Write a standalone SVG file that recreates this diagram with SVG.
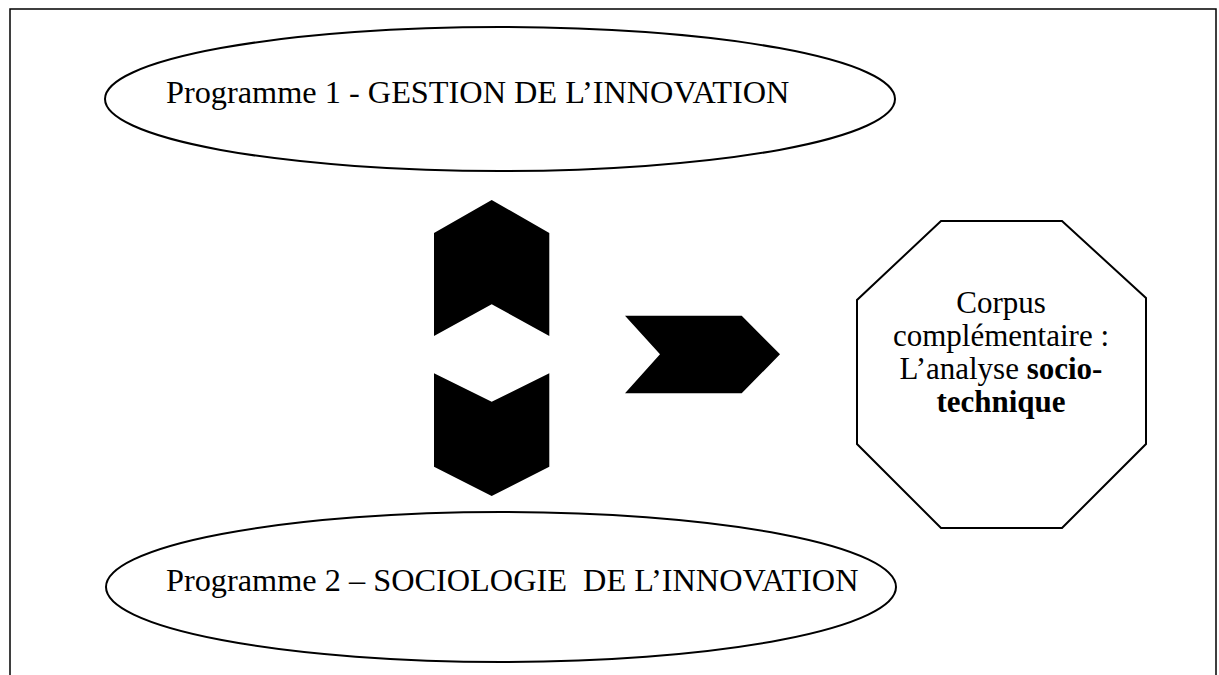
<svg xmlns="http://www.w3.org/2000/svg" width="1219" height="675" viewBox="0 0 1219 675">
<style>
.frame{fill:none;stroke:#000;stroke-width:1.5}
.shape{fill:#fff;stroke:#000;stroke-width:2}
.arrow{fill:#000;stroke:none}
.t{font-family:"Liberation Serif","Times New Roman",serif;fill:#000}
.lbl{font-size:32.3px}
.oct{font-size:31px;text-anchor:middle}
.b{font-weight:bold}
</style>
<rect x="0" y="0" width="1219" height="675" fill="#fff"/>
<path class="frame" d="M10,675 L10,9 L1216,9 L1216,675"/>
<g id="prog1">
<ellipse class="shape" cx="500" cy="99" rx="395" ry="72"/>
<text class="t lbl" x="166" y="103">Programme 1 - GESTION DE L’INNOVATION</text>
</g>
<g id="prog2">
<ellipse class="shape" cx="501" cy="587" rx="395" ry="75"/>
<text class="t lbl" x="166" y="591" xml:space="preserve">Programme 2 – SOCIOLOGIE  DE L’INNOVATION</text>
</g>
<g id="corpus">
<polygon class="shape" points="941,221 1062,221 1146,298 1146,444 1062,528 941,528 857,444 857,300"/>
<text class="t oct" x="1001" y="313">Corpus</text>
<text class="t oct" x="1001" y="346">complémentaire :</text>
<text class="t oct" x="1001" y="379">L’analyse <tspan class="b">socio-</tspan></text>
<text class="t oct b" x="1001" y="412">technique</text>
</g>
<g id="connectors">
<polygon class="arrow" points="491.7,200 549.3,233 549.3,336 491.7,304.3 434,336 434,233"/>
<polygon class="arrow" points="434,373.3 491.7,401.7 549.3,373.3 549.3,466.7 491.7,496 434,466.7"/>
<polygon class="arrow" points="625,315.7 741.7,315.7 780,354.3 741.7,393.3 625,393.3 660,354.3"/>
</g>
</svg>
